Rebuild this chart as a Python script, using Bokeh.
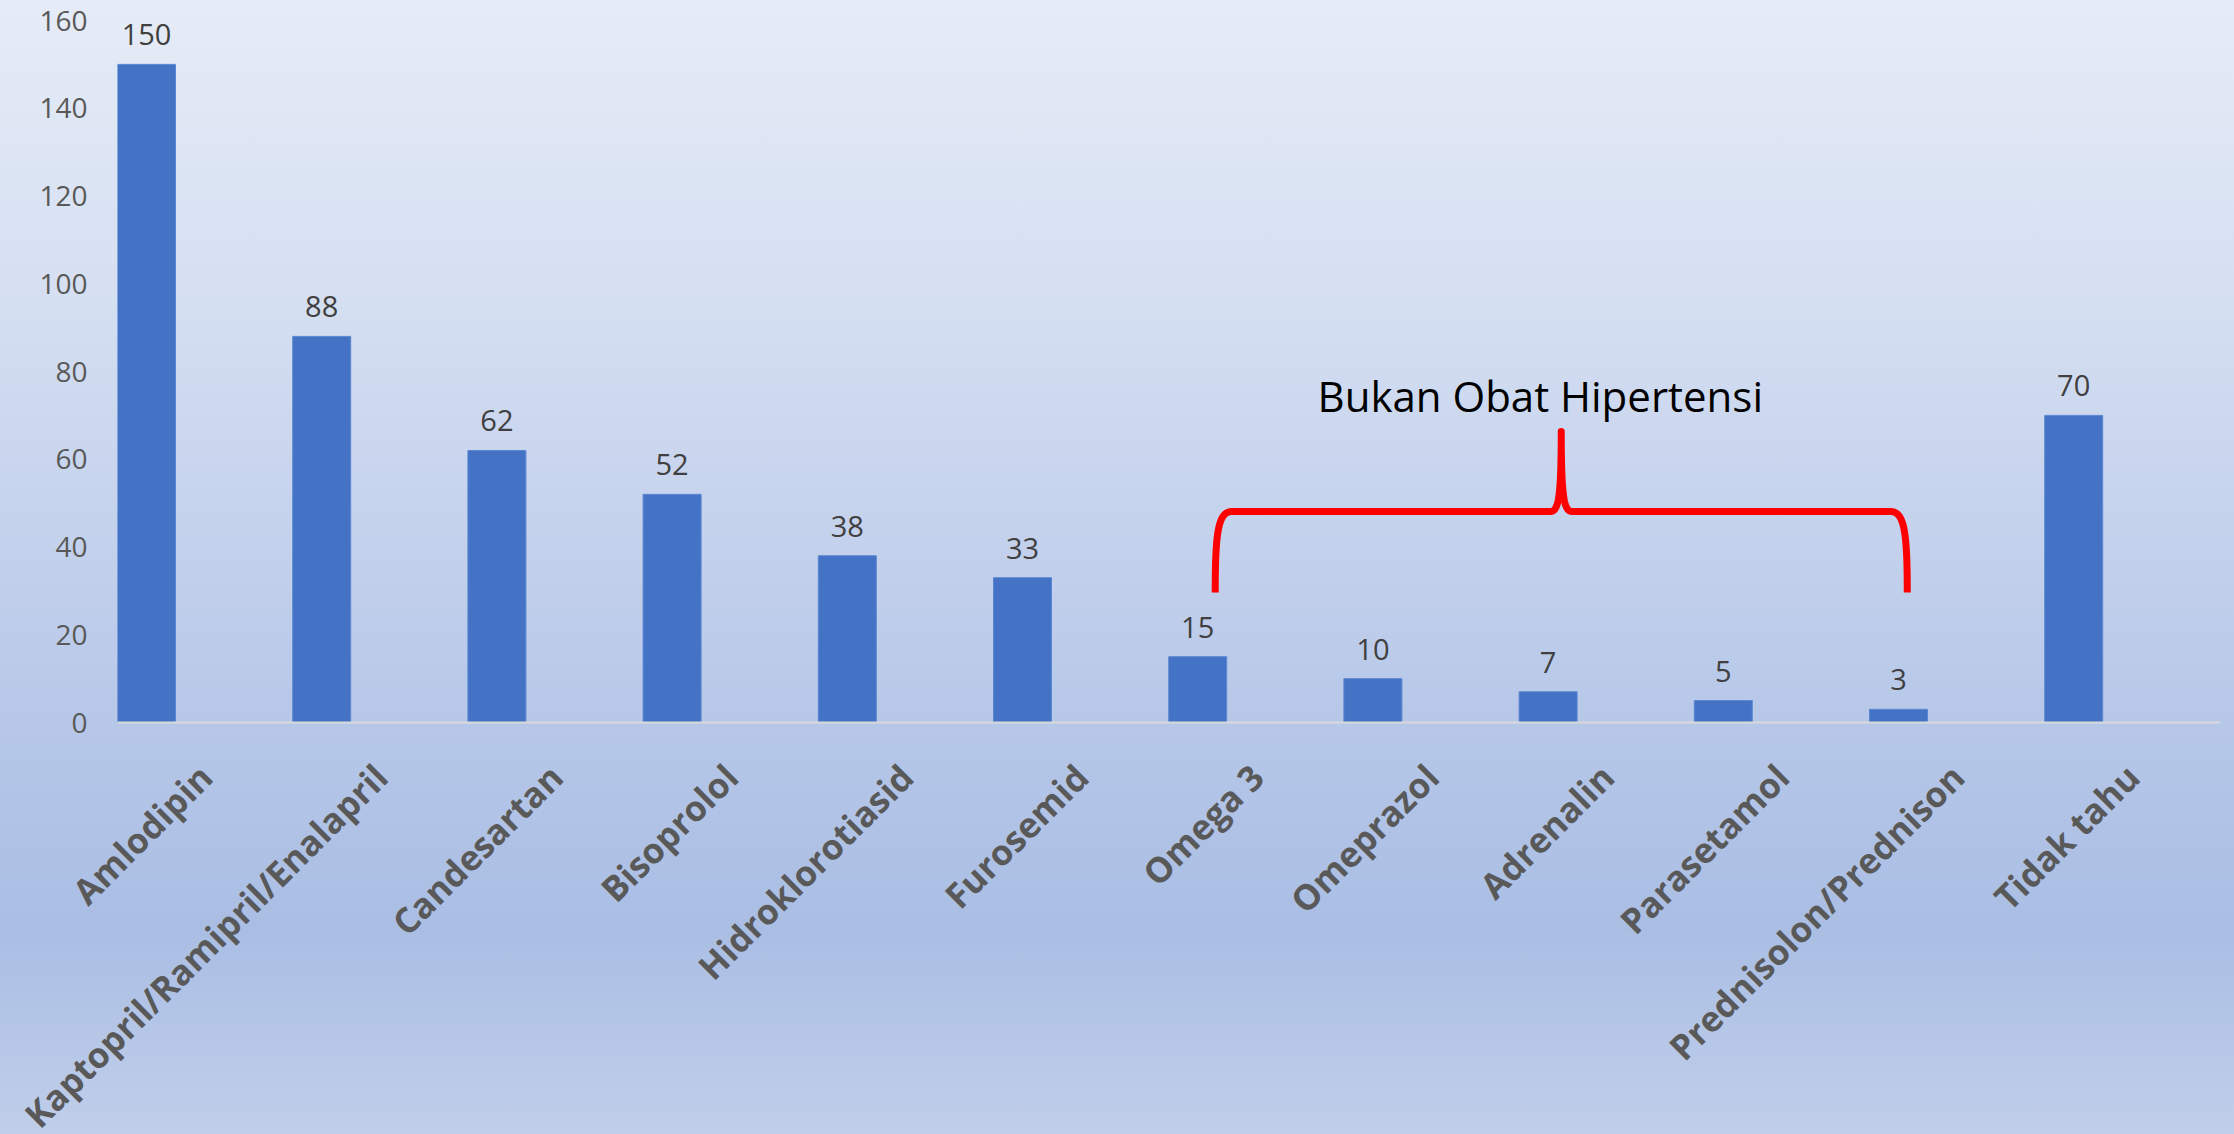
import numpy as np
from math import pi
from bokeh.plotting import figure
from bokeh.models import (ColumnDataSource, Range1d, LinearAxis, FixedTicker,
                          LabelSet, Label, GlobalInlineStyleSheet)
from bokeh.core.properties import value
from bokeh.embed import file_html
from bokeh.resources import INLINE

# ---------------- data ----------------
categories = ["Amlodipin", "Kaptopril/Ramipril/Enalapril", "Candesartan", "Bisoprolol",
              "Hidroklorotiasid", "Furosemid", "Omega 3", "Omeprazol", "Adrenalin",
              "Parasetamol", "Prednisolon/Prednison", "Tidak tahu"]
counts = [150, 88, 62, 52, 38, 33, 15, 10, 7, 5, 3, 70]
y_ticks = [0, 20, 40, 60, 80, 100, 120, 140, 160]
group_text = "Bukan Obat Hipertensi"
group_first = categories.index("Omega 3")
group_last = categories.index("Prednisolon/Prednison")

# ---------------- layout ----------------
W, H = 2234, 1184          # extra bottom strip is hidden (overflow hidden)
PX_CAT = 175.2             # px per category
FRAME_L, FRAME_R, FRAME_T, FRAME_B = 117, 15, 20, 462
FIRST_C = 146              # px of first category centre
x_start = (FRAME_L - FIRST_C) / PX_CAT
x_end = x_start + (W - FRAME_L - FRAME_R) / PX_CAT
UX = 1.0 / PX_CAT
UY = 160.0 / (H - FRAME_T - FRAME_B)

xs = list(range(len(categories)))
src = ColumnDataSource(dict(x=xs, count=counts, label=[str(c) for c in counts]))

p = figure(width=W, height=H, x_range=Range1d(x_start, x_end), y_range=Range1d(0, 160),
           output_backend="svg", toolbar_location=None, x_axis_location=None,
           min_border_left=FRAME_L, min_border_right=FRAME_R,
           min_border_top=FRAME_T, min_border_bottom=FRAME_B)
p.background_fill_color = None
p.border_fill_color = None
p.outline_line_color = None
p.xgrid.visible = False
p.ygrid.visible = False

grad = ("linear-gradient(180deg, #e6ecf7 0%, #d6e0f2 25%, #c6d3ed 45%, "
        "#b6c7e8 64%, #aabee4 82%, #c0ceea 100%)")
p.stylesheets = [GlobalInlineStyleSheet(
    css=f"html{{height:100%;overflow:hidden;background:{grad};}} "
        f"body{{background:transparent;overflow:hidden;}}")]

# bars
p.vbar(x="x", top="count", width=0.331, source=src,
       fill_color="#4472c4", line_color="#5b87d2", line_width=1)

# value labels
p.add_layout(LabelSet(x="x", y="count", text="label", source=src, y_offset=19,
                      text_align="center", text_baseline="alphabetic",
                      text_font=value("Open Sans"), text_font_size="29px",
                      text_color="#404040"))

# y axis
ya = p.yaxis[0]
ya.ticker = FixedTicker(ticks=y_ticks)
ya.axis_line_color = None
ya.major_tick_line_color = None
ya.minor_tick_line_color = None
ya.major_tick_out = 0
ya.major_label_standoff = 30
ya.major_label_text_font = "Open Sans"
ya.major_label_text_font_size = "28px"
ya.major_label_text_color = "#595959"

# x axis (labels shifted right, as in the original)
shift = 0.337
p.extra_x_ranges = {"lbl": Range1d(x_start - shift, x_end - shift)}
xa = LinearAxis(x_range_name="lbl", ticker=FixedTicker(ticks=xs),
                major_label_overrides={i: c for i, c in zip(xs, categories)},
                major_label_orientation=pi / 4)
xa.axis_line_color = "#d9d9d9"
xa.axis_line_width = 2
xa.major_tick_line_color = None
xa.minor_tick_line_color = None
xa.major_tick_out = 0
xa.major_tick_in = 0
xa.major_label_standoff = 48
xa.major_label_text_font = "Open Sans"
xa.major_label_text_font_style = "bold"
xa.major_label_text_font_size = "35px"
xa.major_label_text_color = "#595959"
p.add_layout(xa, "below")

# bracket annotation
def bez(p0, p1, p2, p3, n=40):
    t = np.linspace(0, 1, n)[:, None]
    p0, p1, p2, p3 = map(np.array, (p0, p1, p2, p3))
    return (1 - t) ** 3 * p0 + 3 * (1 - t) ** 2 * t * p1 + 3 * (1 - t) * t ** 2 * p2 + t ** 3 * p3

x0 = group_first + 0.10
x1 = group_last + 0.05
xm = (x0 + x1) / 2
yh = 48.1
yb = yh - 81 * UY
yp = yh + 80 * UY

left_c = bez((x0, yb), (x0, yh - 20 * UY), (x0 + 3 * UX, yh), (x0 + 17 * UX, yh))
peak_l = bez((xm - 11 * UX, yh), (xm - 3 * UX, yh), (xm, yh + 12 * UY), (xm, yp))
peak_r = bez((xm, yp), (xm, yh + 12 * UY), (xm + 3 * UX, yh), (xm + 11 * UX, yh))
right_c = bez((x1 - 17 * UX, yh), (x1 - 3 * UX, yh), (x1, yh - 20 * UY), (x1, yb))
path = np.vstack([left_c, peak_l, peak_r, right_c])
p.line(path[:, 0], path[:, 1], line_color="#ff0000", line_width=7,
       line_join="round", line_cap="butt")

p.add_layout(Label(x=xm, y=yp + 20 * UY, x_offset=-21, y_offset=16, text=group_text,
                   text_align="center", text_baseline="alphabetic",
                   text_font="Open Sans", text_font_size="42px", text_color="#000000"))

open("out.html", "w").write(file_html(p, INLINE))
